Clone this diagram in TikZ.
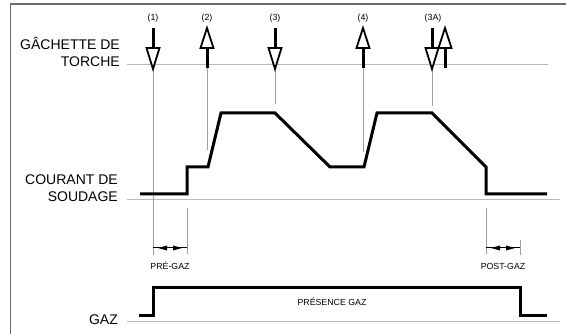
\documentclass[tikz,border=0pt]{standalone}
\usepackage{fontspec}
\setmainfont{Liberation Sans}
\begin{document}
\begin{tikzpicture}[x=1pt,y=-1pt,
  biglab/.style={font=\fontsize{14}{17}\selectfont, align=right, anchor=east, inner sep=0pt},
  smalllab/.style={font=\fontsize{8.8}{10}\selectfont, inner sep=0pt},
  guide/.style={draw=gray!75, line width=0.8pt},
  signal/.style={draw=black, line width=3pt, line join=miter},
  baseln/.style={draw=gray!55, line width=1pt},
  frameln/.style={draw=gray!85!black, line width=1.5pt},
  shaft/.style={draw=black, line width=3pt},
  head/.style={draw=black, fill=white, line width=1.8pt, line join=miter},
  dimhead/.style={fill=black},
  downarr/.pic={
    \draw[shaft] (0,28) -- (0,48);
    \draw[head] (-6.5,48) -- (6.5,48) -- (0,69) -- cycle;
  },
  uparr/.pic={
    \draw[shaft] (0,48) -- (0,68);
    \draw[head] (-6.5,48) -- (6.5,48) -- (0,28) -- cycle;
  },
]
\useasboundingbox (0,0) rectangle (566,334);
\draw[frameln] (10.5,334) -- (10.5,4) -- (566,4);

% labels
\node[biglab] (ltorch) at (120,52) {GÂCHETTE DE\\TORCHE};
\node[biglab] (lcour) at (118,188) {COURANT DE\\SOUDAGE};
\node[biglab] (lgaz) at (118,320) {GAZ};

% base lines
\coordinate (t0) at (127,65);   \coordinate (t1) at (548,65);
\coordinate (c0) at (127,200);  \coordinate (c1) at (560,200);
\coordinate (g0) at (127,322);  \coordinate (g1) at (560,322);
\draw[baseln] (t0) -- (t1);
\draw[baseln] (c0) -- (c1);
\draw[baseln] (g0) -- (g1);

% event labels
\node[smalllab] (e1) at (153,18) {(1)};
\node[smalllab] (e2) at (207,18) {(2)};
\node[smalllab] (e3) at (275,18) {(3)};
\node[smalllab] (e4) at (363,18) {(4)};
\node[smalllab] (e3a) at (433,18) {(3A)};

% guide lines
\draw[guide] (153,70) -- (153,255);
\draw[guide] (207,68) -- (207,150);
\draw[guide] (275,70) -- (275,104);
\draw[guide] (363,68) -- (363,152);
\draw[guide] (432,70) -- (432,106);
\draw[guide] (187,208) -- (187,254);
\draw[guide] (486,208) -- (486,254);
\draw[guide] (520,240) -- (520,255);

% trigger arrows
\pic at (153,0) {downarr};
\pic at (207,0) {uparr};
\pic at (275,0) {downarr};
\pic at (363,0) {uparr};
\pic at (432,0) {downarr};
\pic at (445,0) {uparr};

% welding current
\draw[signal] (140,194) -- (187,194) -- (187,167) -- (208,167) -- (221,113)
  -- (275,113) -- (330,167) -- (364,167) -- (377,113) -- (432,113)
  -- (486,167) -- (486,194) -- (547,194);

% gas
\draw[signal] (139,316) -- (153,316) -- (153,288) -- (520,288) -- (520,316) -- (547,316);
\node[smalllab] (pres) at (332,302) {PRÉSENCE GAZ};

% pre-gas dimension
\draw[line width=1pt] (153,248) -- (187,248);
\fill[dimhead] (158,248) -- (167,245.5) -- (167,250.5) -- cycle;
\fill[dimhead] (182,248) -- (173,245.5) -- (173,250.5) -- cycle;
\node[smalllab] (pre) at (170,266) {PRÉ-GAZ};

% post-gas dimension
\draw[line width=1pt] (486,248) -- (520,248);
\fill[dimhead] (491,248) -- (500,245.5) -- (500,250.5) -- cycle;
\fill[dimhead] (515,248) -- (506,245.5) -- (506,250.5) -- cycle;
\node[smalllab] (post) at (503,266) {POST-GAZ};
\end{tikzpicture}
\end{document}
